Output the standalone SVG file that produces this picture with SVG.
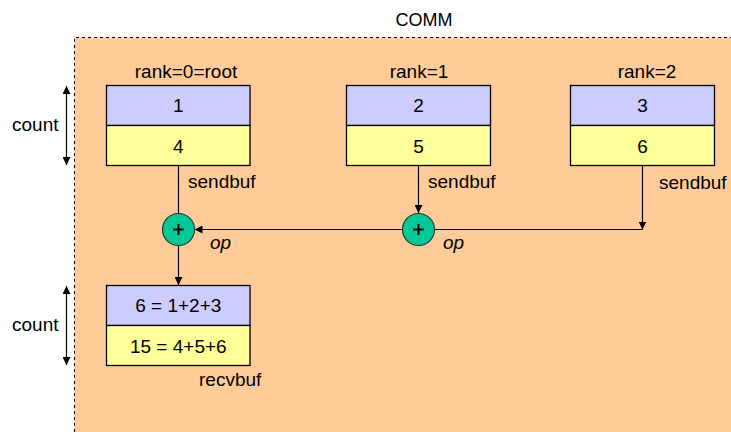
<svg xmlns="http://www.w3.org/2000/svg" width="731" height="432" viewBox="0 0 731 432">
  <style>
    text { font-family: "Liberation Sans", Arial, sans-serif; font-size: 19px; fill: #000; }
    .mid { text-anchor: middle; }
    .op { font-style: italic; }
    .top { fill: #CCCCFF; stroke: #000; stroke-width: 1.3; }
    .bot { fill: #FFFF99; stroke: #000; stroke-width: 1.3; }
    .wire { fill: none; stroke: #000; stroke-width: 1.2; }
    .opc { fill: #00C896; stroke: #333; stroke-width: 1.2; }
  </style>
  <defs>
    <marker id="ah" viewBox="0 0 10 10" refX="10" refY="5" markerWidth="8" markerHeight="8" markerUnits="userSpaceOnUse" orient="auto-start-reverse">
      <path d="M0,0 L10,5 L0,10 Z" fill="#000"/>
    </marker>
  </defs>

  <!-- communicator area -->
  <g id="comm">
    <rect x="74.5" y="37.5" width="700" height="420" fill="#FFCC99"/>
    <path d="M74.5,432 V37.5 H731" fill="none" stroke="#000" stroke-width="1" stroke-dasharray="3,3"/>
    <text class="mid" x="424" y="26" style="font-size:18px">COMM</text>
  </g>

  <!-- count dimension arrows -->
  <g id="count-send">
    <line class="wire" x1="66.5" y1="86" x2="66.5" y2="165" marker-start="url(#ah)" marker-end="url(#ah)"/>
    <text x="12" y="131">count</text>
  </g>
  <g id="count-recv">
    <line class="wire" x1="66.5" y1="286" x2="66.5" y2="365" marker-start="url(#ah)" marker-end="url(#ah)"/>
    <text x="12" y="331">count</text>
  </g>

  <!-- send buffers -->
  <g id="rank0">
    <text class="mid" x="186" y="78">rank=0=root</text>
    <rect class="top" x="106.5" y="85.5" width="143.5" height="40"/>
    <rect class="bot" x="106.5" y="125.5" width="143.5" height="40"/>
    <text class="mid" x="178.3" y="112">1</text>
    <text class="mid" x="178.3" y="153">4</text>
    <text x="188" y="188">sendbuf</text>
  </g>
  <g id="rank1">
    <text class="mid" x="419" y="78">rank=1</text>
    <rect class="top" x="346.5" y="85.5" width="144" height="40"/>
    <rect class="bot" x="346.5" y="125.5" width="144" height="40"/>
    <text class="mid" x="418.5" y="112">2</text>
    <text class="mid" x="418.5" y="153">5</text>
    <text x="428" y="188">sendbuf</text>
  </g>
  <g id="rank2">
    <text class="mid" x="647" y="78">rank=2</text>
    <rect class="top" x="570.5" y="85.5" width="144" height="40"/>
    <rect class="bot" x="570.5" y="125.5" width="144" height="40"/>
    <text class="mid" x="642.5" y="112">3</text>
    <text class="mid" x="642.5" y="153">6</text>
    <text x="659" y="189">sendbuf</text>
  </g>

  <!-- receive buffer -->
  <g id="recv">
    <rect class="top" x="106.5" y="285.5" width="143.5" height="40"/>
    <rect class="bot" x="106.5" y="325.5" width="143.5" height="40"/>
    <text class="mid" x="178.3" y="312">6 = 1+2+3</text>
    <text class="mid" x="178.3" y="353">15 = 4+5+6</text>
    <text x="199" y="386">recvbuf</text>
  </g>

  <!-- connectors -->
  <g id="connectors">
    <line class="wire" x1="178.5" y1="165.5" x2="178.5" y2="213"/>
    <line class="wire" x1="178.5" y1="245.5" x2="178.5" y2="285" marker-end="url(#ah)"/>
    <line class="wire" x1="418.5" y1="165.5" x2="418.5" y2="213" marker-end="url(#ah)"/>
    <line class="wire" x1="642.5" y1="165.5" x2="642.5" y2="229.5" marker-end="url(#ah)"/>
    <line class="wire" x1="642.5" y1="229.5" x2="434.5" y2="229.5"/>
    <line class="wire" x1="402.5" y1="229.5" x2="194.5" y2="229.5" marker-end="url(#ah)"/>
  </g>

  <!-- reduction operators -->
  <g id="op0">
    <circle class="opc" cx="178.5" cy="229.5" r="16"/>
    <path d="M173,229.5 H184 M178.5,224 V235" stroke="#000" stroke-width="2"/>
    <text class="op" x="210" y="249">op</text>
  </g>
  <g id="op1">
    <circle class="opc" cx="418.5" cy="229.5" r="16"/>
    <path d="M413,229.5 H424 M418.5,224 V235" stroke="#000" stroke-width="2"/>
    <text class="op" x="443" y="249">op</text>
  </g>
</svg>
